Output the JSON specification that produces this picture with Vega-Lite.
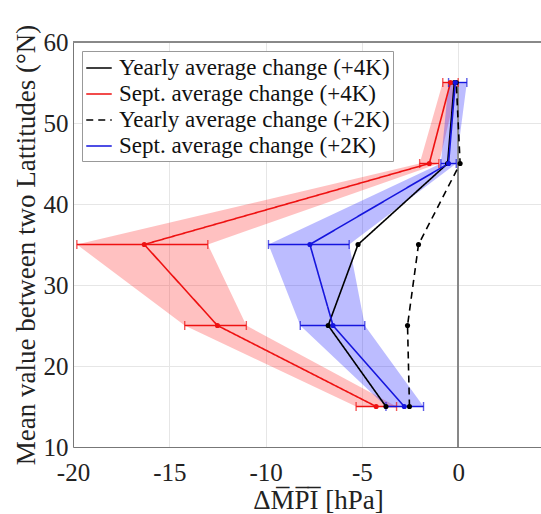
{
  "$schema": "https://vega.github.io/schema/vega-lite/v6.json",
  "width": 468,
  "height": 405,
  "padding": {"left": 12, "top": 24, "right": 0, "bottom": 0},
  "config": {
    "font": "Liberation Serif, Times New Roman, serif",
    "view": {"stroke": null},
    "axis": {
      "labelFont": "Liberation Serif, Times New Roman, serif",
      "titleFont": "Liberation Serif, Times New Roman, serif",
      "labelFontSize": 25,
      "titleFontSize": 27,
      "titleFontWeight": "normal",
      "labelColor": "#222",
      "titleColor": "#222",
      "domainColor": "#777",
      "tickColor": "#777",
      "gridColor": "#e6e6e6",
      "tickSize": 0,
      "labelPadding": 5,
      "labelFlush": false
    },
    "legend": {
      "labelFont": "Liberation Serif, Times New Roman, serif",
      "labelFontSize": 23,
      "labelColor": "#111",
      "labelLimit": 0
    }
  },
  "datasets": {
    "d": [
      {"s": "Yearly average change (+4K)", "lat": 55, "v": -0.2},
      {"s": "Yearly average change (+4K)", "lat": 45, "v": -0.55},
      {"s": "Yearly average change (+4K)", "lat": 35, "v": -5.2},
      {"s": "Yearly average change (+4K)", "lat": 25, "v": -6.75},
      {"s": "Yearly average change (+4K)", "lat": 15, "v": -3.75},
      {"s": "Sept. average change (+4K)", "lat": 55, "v": -0.4, "lo": -0.8, "hi": 0.0},
      {"s": "Sept. average change (+4K)", "lat": 45, "v": -1.5, "lo": -2.0, "hi": -1.0},
      {"s": "Sept. average change (+4K)", "lat": 35, "v": -16.3, "lo": -19.8, "hi": -13.0},
      {"s": "Sept. average change (+4K)", "lat": 25, "v": -12.5, "lo": -14.2, "hi": -11.0},
      {"s": "Sept. average change (+4K)", "lat": 15, "v": -4.26, "lo": -5.3, "hi": -3.2},
      {"s": "Yearly average change (+2K)", "lat": 55, "v": -0.1},
      {"s": "Yearly average change (+2K)", "lat": 45, "v": 0.1},
      {"s": "Yearly average change (+2K)", "lat": 35, "v": -2.06},
      {"s": "Yearly average change (+2K)", "lat": 25, "v": -2.63},
      {"s": "Yearly average change (+2K)", "lat": 15, "v": -2.53},
      {"s": "Sept. average change (+2K)", "lat": 55, "v": -0.15, "lo": -0.5, "hi": 0.45},
      {"s": "Sept. average change (+2K)", "lat": 45, "v": -0.5, "lo": -0.9, "hi": -0.1},
      {"s": "Sept. average change (+2K)", "lat": 35, "v": -7.7, "lo": -9.85, "hi": -5.66},
      {"s": "Sept. average change (+2K)", "lat": 25, "v": -6.5, "lo": -8.2, "hi": -4.85},
      {"s": "Sept. average change (+2K)", "lat": 15, "v": -2.8, "lo": -3.75, "hi": -1.8}
    ]
  },
  "data": {"name": "d"},
  "encoding": {
    "y": {
      "field": "lat", "type": "quantitative",
      "scale": {"domain": [10, 60], "nice": false},
      "axis": {"values": [10, 20, 30, 40, 50, 60], "title": "Mean value between two Lattitudes (°N)", "titlePadding": 3}
    }
  },
  "layer": [
    {
      "transform": [{"filter": "datum.s === 'Sept. average change (+4K)'"}],
      "mark": {"type": "area", "orient": "horizontal", "color": "#ff2020", "fillOpacity": 0.28},
      "encoding": {
        "x": {"field": "lo", "type": "quantitative", "title": "ΔM̅P̅I̅ [hPa]"},
        "x2": {"field": "hi"}
      }
    },
    {
      "transform": [{"filter": "datum.s === 'Sept. average change (+2K)'"}],
      "mark": {"type": "area", "orient": "horizontal", "color": "#2020ff", "fillOpacity": 0.3},
      "encoding": {
        "x": {"field": "lo", "type": "quantitative", "title": "ΔM̅P̅I̅ [hPa]"},
        "x2": {"field": "hi"}
      }
    },
    {
      "mark": {"type": "rule", "color": "#888", "strokeWidth": 1.2},
      "encoding": {"x": {"datum": 0}}
    },
    {
      "mark": {"type": "rule", "color": "#888", "strokeWidth": 1},
      "encoding": {"y": {"datum": 60}}
    },
    {
      "mark": {"type": "line", "strokeWidth": 1.6},
      "encoding": {
        "x": {
          "field": "v", "type": "quantitative",
          "scale": {"domain": [-20, 4.3], "nice": false, "zero": false},
          "axis": {"values": [-20, -15, -10, -5, 0], "labelExpr": "'' + datum.value", "labelPadding": 13, "title": "ΔM̅P̅I̅ [hPa]", "titlePadding": 2, "titleX": 245}
        },
        "order": {"field": "lat"},
        "color": {
          "field": "s", "type": "nominal",
          "scale": {
            "domain": ["Yearly average change (+4K)", "Sept. average change (+4K)", "Yearly average change (+2K)", "Sept. average change (+2K)"],
            "range": ["#000000", "#ee1111", "#000000", "#1515dd"]
          },
          "legend": {
            "title": null, "orient": "top-left", "offset": 9, "padding": 3,
            "symbolType": "stroke", "symbolSize": 650, "symbolStrokeWidth": 1.6,
            "fillColor": "white", "strokeColor": "#999", "rowPadding": 0, "labelOffset": 6
          }
        },
        "strokeDash": {
          "field": "s", "type": "nominal",
          "scale": {
            "domain": ["Yearly average change (+4K)", "Sept. average change (+4K)", "Yearly average change (+2K)", "Sept. average change (+2K)"],
            "range": [[1, 0], [1, 0], [7, 5], [1, 0]]
          },
          "legend": {
            "title": null, "orient": "top-left", "offset": 9, "padding": 3,
            "symbolType": "stroke", "symbolSize": 650, "symbolStrokeWidth": 1.6,
            "fillColor": "white", "strokeColor": "#999", "rowPadding": 0, "labelOffset": 6
          }
        }
      }
    },
    {
      "transform": [{"filter": "isValid(datum.lo)"}],
      "mark": {"type": "errorbar", "ticks": {"size": 9}, "thickness": 1.4},
      "encoding": {
        "x": {"field": "lo", "type": "quantitative", "title": "ΔM̅P̅I̅ [hPa]"},
        "x2": {"field": "hi"},
        "color": {"field": "s", "type": "nominal", "legend": null}
      }
    },
    {
      "mark": {"type": "point", "filled": true, "size": 26, "opacity": 1},
      "encoding": {
        "x": {"field": "v", "type": "quantitative"},
        "color": {"field": "s", "type": "nominal", "legend": null}
      }
    }
  ]
}
